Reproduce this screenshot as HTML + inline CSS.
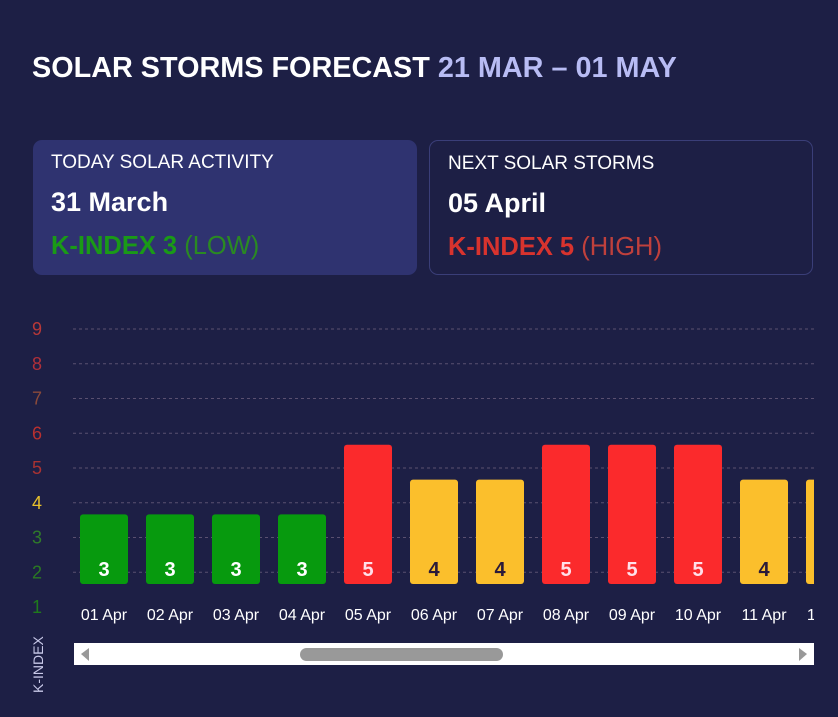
<!DOCTYPE html>
<html><head><meta charset="utf-8"><style>
body{margin:0;width:838px;height:717px;background:#1d1f45;font-family:"Liberation Sans",sans-serif;overflow:hidden;position:relative;color:#fff}
.title{position:absolute;left:32px;top:52px;font-size:28.8px;font-weight:bold}
.title span{color:#b8bcf4}
.card{position:absolute;top:140px;height:135px;width:384px;box-sizing:border-box;border-radius:9px}
.c1{left:33px;background:#2f3370}
.c2{left:429px;border:1px solid #3a3e78}
.lbl{position:absolute;left:18px;top:12px;font-size:19px}
.date{position:absolute;left:18px;top:47px;font-size:27px;font-weight:bold}
.k{position:absolute;left:18px;top:92px;font-size:25.5px}
</style></head><body>
<div class="title">SOLAR STORMS FORECAST <span>21 MAR – 01 MAY</span></div>
<div class="card c1">
<div class="lbl">TODAY SOLAR ACTIVITY</div><div class="date">31 March</div>
<div class="k"><b style="color:#1a9a17">K-INDEX 3</b> <span style="color:#2a8a22">(LOW)</span></div></div>
<div class="card c2">
<div class="lbl">NEXT SOLAR STORMS</div><div class="date">05 April</div>
<div class="k"><b style="color:#d8332e">K-INDEX 5</b> <span style="color:#c0403c">(HIGH)</span></div></div>
<svg id="chart" width="838" height="717" style="position:absolute;left:0;top:0"></svg>
<script>
const categories=["01 Apr","02 Apr","03 Apr","04 Apr","05 Apr","06 Apr","07 Apr","08 Apr","09 Apr","10 Apr","11 Apr","12 Apr"];
const values=[3,3,3,3,5,4,4,5,5,5,4,4];
const yTicks=[1,2,3,4,5,6,7,8,9];
const tickColors=["#1f7a1c","#2a7a22","#2f7a2a","#e8c02c","#a83232","#b83030","#8a4a3a","#b0303a","#b83838"];
const NS="http://www.w3.org/2000/svg";
const svg=document.getElementById('chart');
function yGrid(v){return 607-(v-1)*34.75;}
function yBar(v){return 584-(v-1)*34.8;}
function xC(i){return 104+i*66;}
function mk(t,a,p){const e=document.createElementNS(NS,t);for(const k in a)e.setAttribute(k,a[k]);(p||svg).appendChild(e);return e;}
const clip=mk('clipPath',{id:'cp'});mk('rect',{x:73,y:300,width:741,height:330},clip);
yTicks.forEach((v,i)=>{
 const t=mk('text',{x:37,y:yGrid(v)+6,'text-anchor':'middle','font-size':18,fill:tickColors[i]});t.textContent=v;
 
 
 if(v>1){const l=mk('line',{x1:73,x2:814,y1:yGrid(v),y2:yGrid(v),stroke:'#5a5070','stroke-dasharray':'3,3','stroke-width':1});
 
 }
});
const g=mk('g',{'clip-path':'url(#cp)'});
values.forEach((v,i)=>{
 const col=v>=5?'#fb2a2c':v==4?'#fbbf2c':'#079a0e';
 const top=yBar(v);
 const r=mk('rect',{x:xC(i)-24,y:top,width:48,height:584-top,rx:3,fill:col},g);
 
 
 const t=mk('text',{x:xC(i),y:576,'text-anchor':'middle','font-size':20,'font-weight':'bold',fill:v==4?'#2a1a3a':v>=5?'#ffe0ea':'#fff'},g);t.textContent=v;
 
 
 const c=mk('text',{x:xC(i),y:620,'text-anchor':'middle','font-size':16,fill:'#fff'},g);c.textContent=categories[i];
 
 
});
const yt=mk('text',{x:0,y:0,transform:'translate(43,693) rotate(-90)','font-size':14,fill:'#c8c8e8'});yt.textContent='K-INDEX';


const sb=mk('rect',{x:74,y:643,width:740,height:22,fill:'#fff'});


const th=mk('rect',{x:300,y:648,width:203,height:13,rx:6.5,fill:'#999'});


const la=mk('path',{d:'M81 654 L89 648 L89 661 Z',fill:'#999'});


const ra=mk('path',{d:'M807 654 L799 648 L799 661 Z',fill:'#999'});


</script>
</body></html>
